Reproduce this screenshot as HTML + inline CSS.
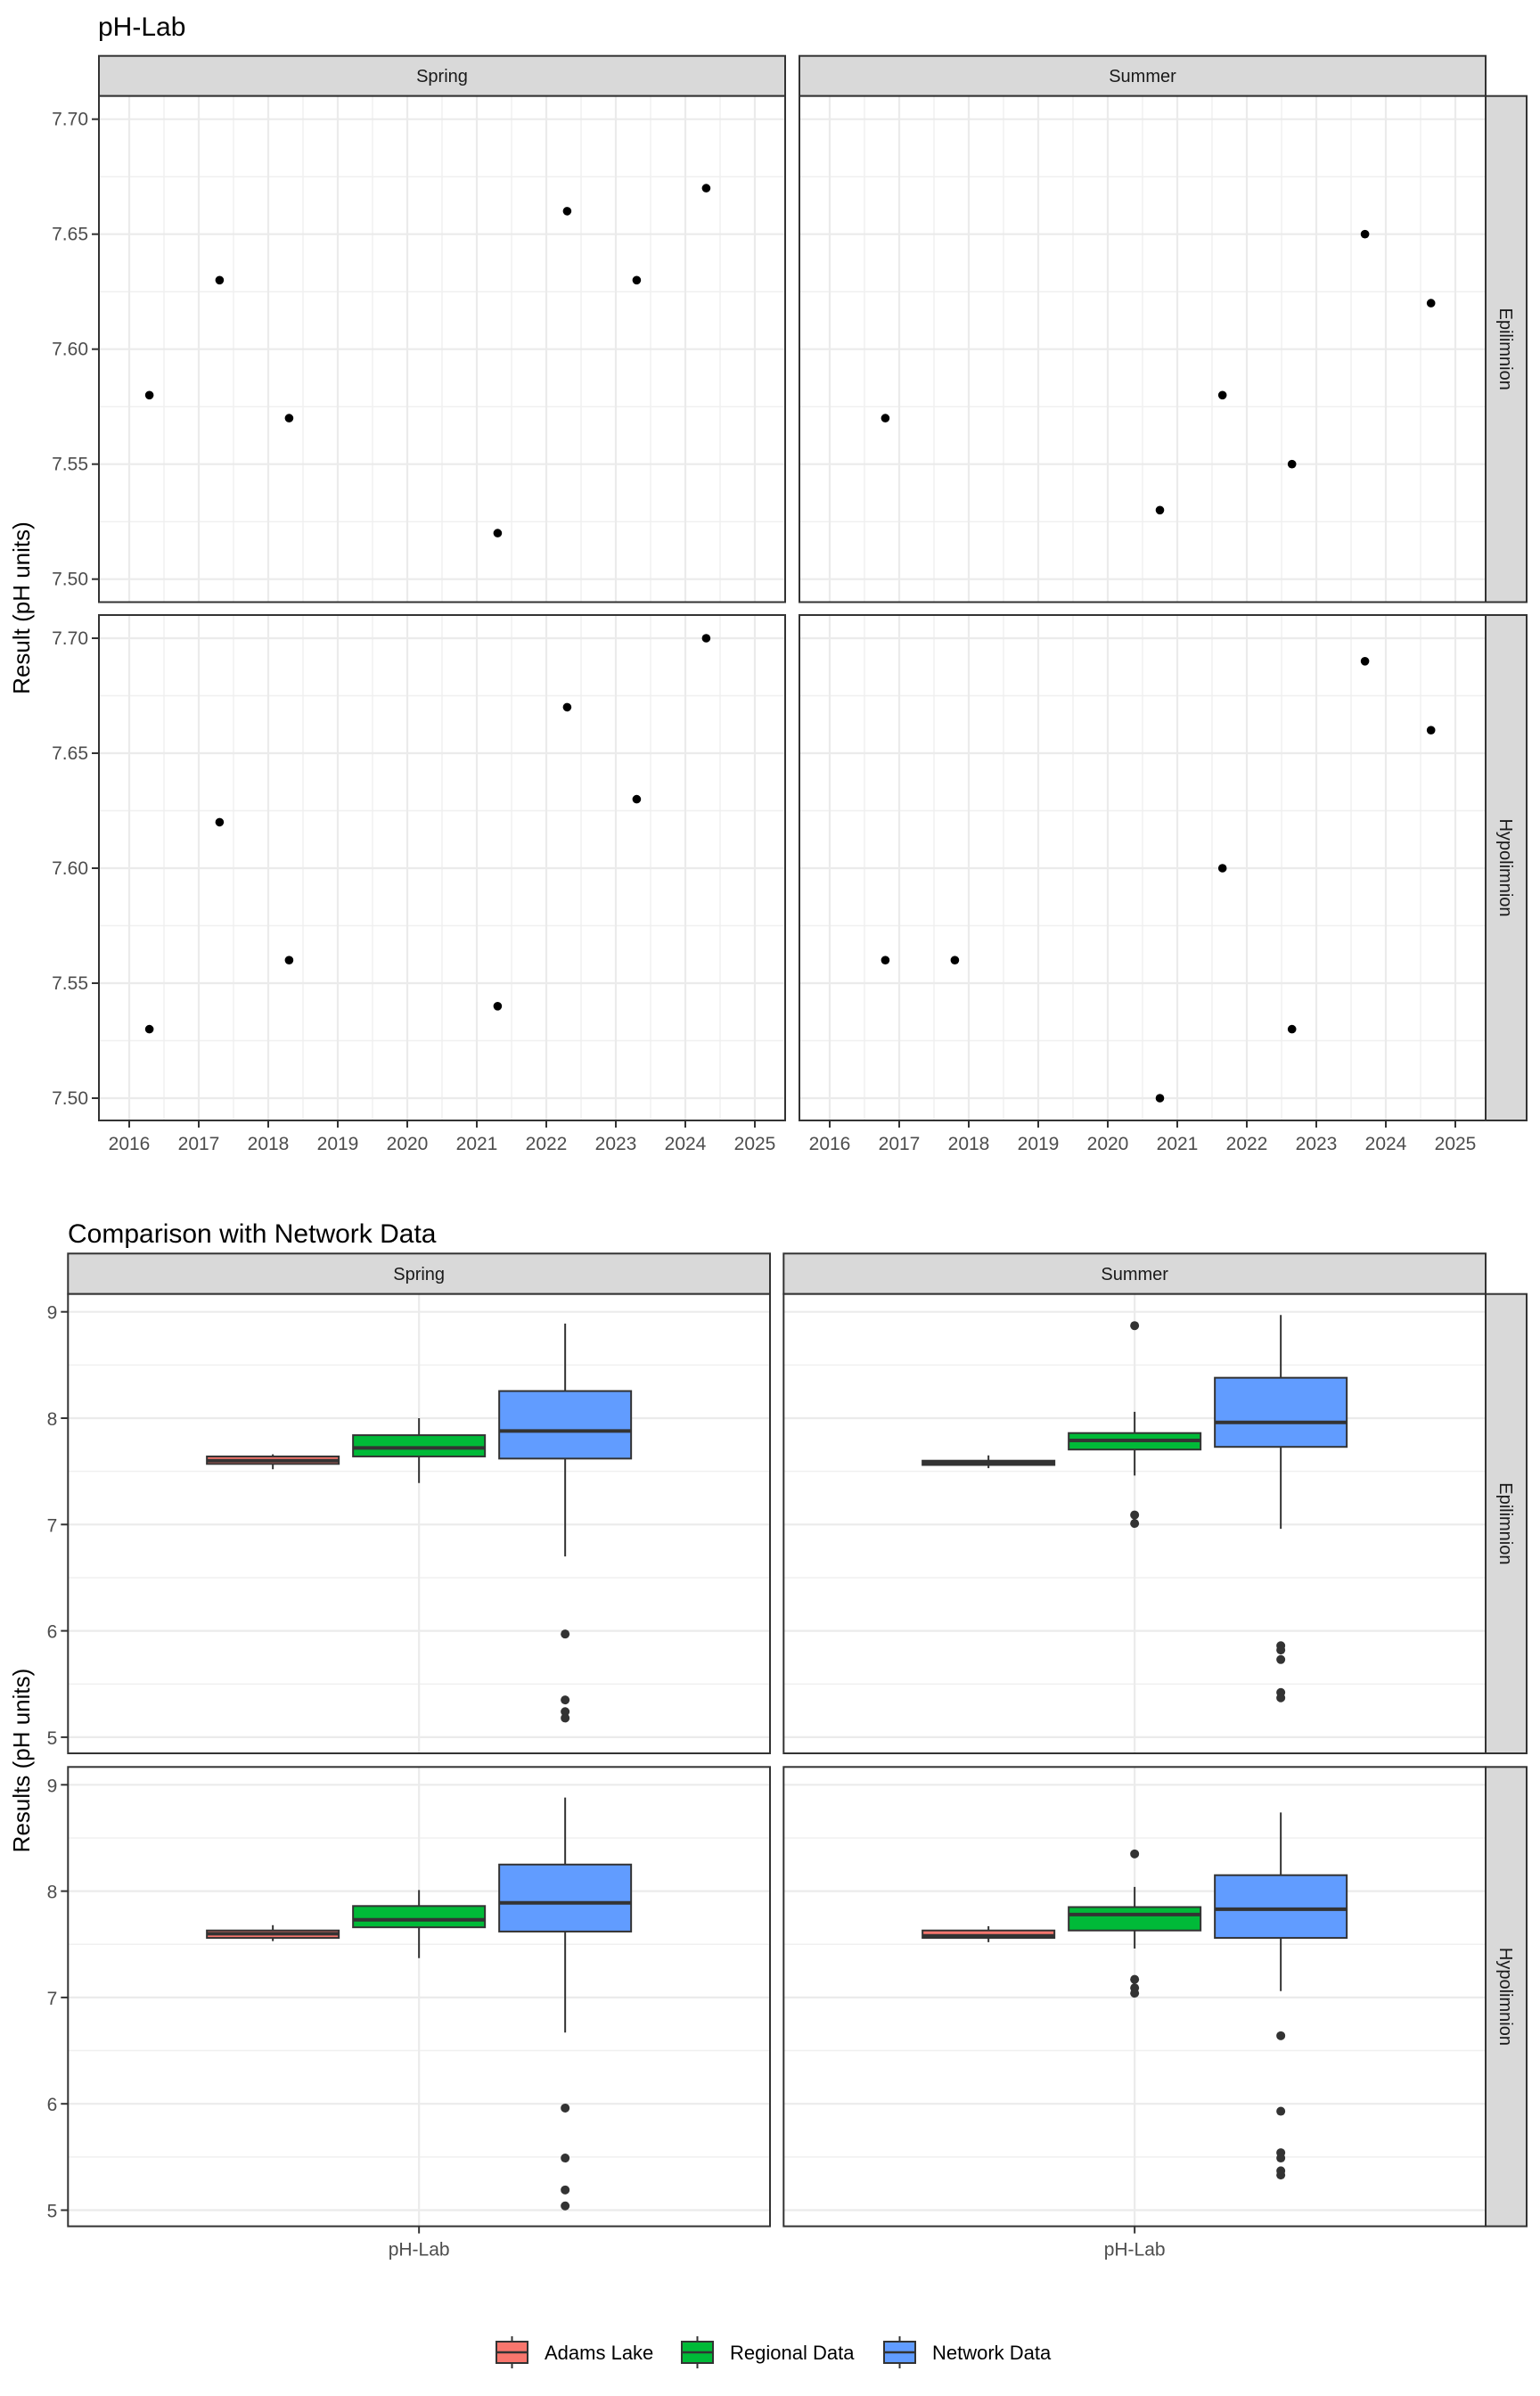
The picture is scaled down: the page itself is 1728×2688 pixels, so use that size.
<!DOCTYPE html>
<html><head><meta charset="utf-8">
<style>
html,body{margin:0;padding:0;background:#fff;}
svg{display:block;font-family:"Liberation Sans",sans-serif;}
</style></head>
<body>
<svg id="chart" width="1728" height="2688" viewBox="0 0 1728 2688" xmlns="http://www.w3.org/2000/svg"></svg>
<script>
// ---------- Top chart data (scatter) ----------
const seasons = ["Spring", "Summer"];
const layers = ["Epilimnion", "Hypolimnion"];
const yearTicks = [2016, 2017, 2018, 2019, 2020, 2021, 2022, 2023, 2024, 2025];
const phTicks = [7.50, 7.55, 7.60, 7.65, 7.70];
const springEpiYears = [2016.29, 2017.3, 2018.3, 2021.3, 2022.3, 2023.3, 2024.3];
const springEpiValues = [7.58, 7.63, 7.57, 7.52, 7.66, 7.63, 7.67];
const springHypoYears = [2016.29, 2017.3, 2018.3, 2021.3, 2022.3, 2023.3, 2024.3];
const springHypoValues = [7.53, 7.62, 7.56, 7.54, 7.67, 7.63, 7.70];
const summerEpiYears = [2016.8, 2020.75, 2021.65, 2022.65, 2023.7, 2024.65];
const summerEpiValues = [7.57, 7.53, 7.58, 7.55, 7.65, 7.62];
const summerHypoYears = [2016.8, 2017.8, 2020.75, 2021.65, 2022.65, 2023.7, 2024.65];
const summerHypoValues = [7.56, 7.56, 7.50, 7.60, 7.53, 7.69, 7.66];

// ---------- Bottom chart data (boxplots) ----------
const groups = ["Adams Lake", "Regional Data", "Network Data"];
const boxTicks = [5, 6, 7, 8, 9];
// [whiskerLow, q1, median, q3, whiskerHigh]
const springEpiBoxes = [[7.52, 7.57, 7.60, 7.64, 7.66], [7.39, 7.64, 7.72, 7.84, 8.00], [6.70, 7.62, 7.88, 8.255, 8.89]];
const springEpiOutliers = [[], [], [5.97, 5.35, 5.24, 5.18]];
const summerEpiBoxes = [[7.53, 7.56, 7.58, 7.60, 7.65], [7.46, 7.705, 7.79, 7.86, 8.06], [6.96, 7.73, 7.96, 8.38, 8.97]];
const summerEpiOutliers = [[], [8.87, 7.09, 7.01], [5.86, 5.82, 5.73, 5.42, 5.37]];
const springHypoBoxes = [[7.53, 7.56, 7.60, 7.63, 7.68], [7.37, 7.66, 7.73, 7.86, 8.01], [6.67, 7.62, 7.89, 8.25, 8.88]];
const springHypoOutliers = [[], [], [5.96, 5.49, 5.19, 5.04]];
const summerHypoBoxes = [[7.52, 7.56, 7.58, 7.63, 7.67], [7.46, 7.63, 7.78, 7.85, 8.04], [7.06, 7.56, 7.83, 8.15, 8.74]];
const summerHypoOutliers = [[], [8.35, 7.17, 7.09, 7.04], [6.64, 5.93, 5.54, 5.49, 5.37, 5.33]];
const groupColors = ["#F8766D", "#00BA38", "#619CFF"];

const NS = "http://www.w3.org/2000/svg";
const svg = document.getElementById("chart");
function mk(tag, attrs, parent, text) {
  const e = document.createElementNS(NS, tag);
  for (const k in attrs) e.setAttribute(k, attrs[k]);
  if (text !== undefined) e.textContent = text;
  (parent || svg).appendChild(e);
  return e;
}

// ----- TOP CHART -----
const topPanelsX = [[111, 881], [897, 1667]];
const topPanelsY = [[107.7, 675.5], [690, 1257]];
let t = mk("text", {x: 110, y: 40, "font-size": 30, fill: "#000"}, svg, "pH-Lab");


t = mk("text", {x: 0, y: 0, "font-size": 26, fill: "#000", "text-anchor": "middle", transform: "translate(33,682) rotate(-90)"}, svg, "Result (pH units)");



const topSeries = [[[springEpiYears, springEpiValues], [springHypoYears, springHypoValues]],
                   [[summerEpiYears, summerEpiValues], [summerHypoYears, summerHypoValues]]];

function yrX(si, yr) { return topPanelsX[si][0] + 34 + (yr - 2016) * 78; }
function phY(li, v) { return topPanelsY[li][0] + 26 + (7.70 - v) * 2580; }

for (let si = 0; si < 2; si++) {
  const [x0, x1] = topPanelsX[si];
  // strip
  let g = mk("g", {});
  
  
  mk("rect", {x: x0, y: 62.7, width: x1 - x0, height: 45, fill: "#D9D9D9", stroke: "#333", "stroke-width": 2}, g);
  mk("text", {x: (x0 + x1) / 2, y: 92, "font-size": 20, "text-anchor": "middle", fill: "#1a1a1a"}, g, seasons[si]);
  for (let li = 0; li < 2; li++) {
    const [y0, y1] = topPanelsY[li];
    const pg = mk("g", {});
    
    
    mk("rect", {x: x0, y: y0, width: x1 - x0, height: y1 - y0, fill: "#fff"}, pg);
    // minor grid
    for (let i = 0; i < yearTicks.length - 1; i++) {
      const xm = yrX(si, yearTicks[i] + 0.5);
      mk("line", {x1: xm, x2: xm, y1: y0, y2: y1, stroke: "#F0F0F0", "stroke-width": 1.5}, pg);
    }
    for (let i = 0; i < phTicks.length - 1; i++) {
      const ym = phY(li, phTicks[i] + 0.025);
      mk("line", {x1: x0, x2: x1, y1: ym, y2: ym, stroke: "#F0F0F0", "stroke-width": 1.5}, pg);
    }
    for (const yr of yearTicks) {
      const xv = yrX(si, yr);
      mk("line", {x1: xv, x2: xv, y1: y0, y2: y1, stroke: "#EBEBEB", "stroke-width": 2.2}, pg);
    }
    for (const v of phTicks) {
      const yv = phY(li, v);
      mk("line", {x1: x0, x2: x1, y1: yv, y2: yv, stroke: "#EBEBEB", "stroke-width": 2.2}, pg);
    }
    const [xs, vs] = topSeries[si][li];
    for (let i = 0; i < xs.length; i++) {
      const c = mk("circle", {cx: yrX(si, xs[i]), cy: phY(li, vs[i]), r: 4.8, fill: "#000"}, pg);
      
      
    }
    mk("rect", {x: x0, y: y0, width: x1 - x0, height: y1 - y0, fill: "none", stroke: "#333", "stroke-width": 2}, pg);
    if (si === 0) {
      for (const v of phTicks) {
        const yv = phY(li, v);
        mk("line", {x1: x0 - 8, x2: x0, y1: yv, y2: yv, stroke: "#333", "stroke-width": 2}, pg);
        mk("text", {x: x0 - 12, y: yv + 7, "font-size": 21, "text-anchor": "end", fill: "#4D4D4D"}, pg, v.toFixed(2));
      }
    }
    if (li === 1) {
      for (const yr of yearTicks) {
        const xv = yrX(si, yr);
        mk("line", {x1: xv, x2: xv, y1: y1, y2: y1 + 8, stroke: "#333", "stroke-width": 2}, pg);
        mk("text", {x: xv, y: y1 + 33, "font-size": 21, "text-anchor": "middle", fill: "#4D4D4D"}, pg, String(yr));
      }
    }
  }
}
for (let li = 0; li < 2; li++) {
  const [y0, y1] = topPanelsY[li];
  const g = mk("g", {});
  
  
  mk("rect", {x: 1667, y: y0, width: 46, height: y1 - y0, fill: "#D9D9D9", stroke: "#333", "stroke-width": 2}, g);
  mk("text", {x: 0, y: 0, "font-size": 20, "text-anchor": "middle", fill: "#1a1a1a", transform: "translate(1683," + ((y0 + y1) / 2) + ") rotate(90)"}, g, layers[li]);
}

// ----- BOTTOM CHART -----
const botPanelsX = [[76.3, 864], [879.3, 1667]];
const botPanelsY = [[1451.7, 1967], [1982.3, 2497.6]];
t = mk("text", {x: 76, y: 1394, "font-size": 30, fill: "#000"}, svg, "Comparison with Network Data");


t = mk("text", {x: 0, y: 0, "font-size": 26, fill: "#000", "text-anchor": "middle", transform: "translate(33,1975) rotate(-90)"}, svg, "Results (pH units)");



const botBoxes = [[springEpiBoxes, springHypoBoxes], [summerEpiBoxes, summerHypoBoxes]];
const botOut = [[springEpiOutliers, springHypoOutliers], [summerEpiOutliers, summerHypoOutliers]];
function bY(li, v) { return botPanelsY[li][0] + 20 + (9 - v) * 119.3; }
function catX(si) { return (botPanelsX[si][0] + botPanelsX[si][1]) / 2; }
const dodge = 164, boxW = 148;

for (let si = 0; si < 2; si++) {
  const [x0, x1] = botPanelsX[si];
  let g = mk("g", {});
  
  
  mk("rect", {x: x0, y: 1406.3, width: x1 - x0, height: 45.4, fill: "#D9D9D9", stroke: "#333", "stroke-width": 2}, g);
  mk("text", {x: (x0 + x1) / 2, y: 1436, "font-size": 20, "text-anchor": "middle", fill: "#1a1a1a"}, g, seasons[si]);
  for (let li = 0; li < 2; li++) {
    const [y0, y1] = botPanelsY[li];
    const pg = mk("g", {});
    
    
    mk("rect", {x: x0, y: y0, width: x1 - x0, height: y1 - y0, fill: "#fff"}, pg);
    for (let i = 0; i < boxTicks.length - 1; i++) {
      const ym = bY(li, boxTicks[i] + 0.5);
      mk("line", {x1: x0, x2: x1, y1: ym, y2: ym, stroke: "#F0F0F0", "stroke-width": 1.5}, pg);
    }
    for (const v of boxTicks) {
      const yv = bY(li, v);
      mk("line", {x1: x0, x2: x1, y1: yv, y2: yv, stroke: "#EBEBEB", "stroke-width": 2.2}, pg);
    }
    const cx = catX(si);
    mk("line", {x1: cx, x2: cx, y1: y0, y2: y1, stroke: "#EBEBEB", "stroke-width": 2.2}, pg);
    const boxes = botBoxes[si][li], outs = botOut[si][li];
    for (let gi = 0; gi < 3; gi++) {
      const [lo, q1, med, q3, hi] = boxes[gi];
      const bx = cx + (gi - 1) * dodge;
      const bg = mk("g", {}, pg);
      
      
      mk("line", {x1: bx, x2: bx, y1: bY(li, hi), y2: bY(li, lo), stroke: "#333", "stroke-width": 2}, bg);
      mk("rect", {x: bx - boxW / 2, y: bY(li, q3), width: boxW, height: bY(li, q1) - bY(li, q3), fill: groupColors[gi], stroke: "#333", "stroke-width": 2}, bg);
      mk("line", {x1: bx - boxW / 2, x2: bx + boxW / 2, y1: bY(li, med), y2: bY(li, med), stroke: "#333", "stroke-width": 4}, bg);
      for (const o of outs[gi]) {
        const c = mk("circle", {cx: bx, cy: bY(li, o), r: 5, fill: "#333"}, bg);
        
        
      }
    }
    mk("rect", {x: x0, y: y0, width: x1 - x0, height: y1 - y0, fill: "none", stroke: "#333", "stroke-width": 2}, pg);
    if (si === 0) {
      for (const v of boxTicks) {
        const yv = bY(li, v);
        mk("line", {x1: x0 - 8, x2: x0, y1: yv, y2: yv, stroke: "#333", "stroke-width": 2}, pg);
        mk("text", {x: x0 - 12, y: yv + 8, "font-size": 21, "text-anchor": "end", fill: "#4D4D4D"}, pg, String(v));
      }
    }
    if (li === 1) {
      mk("line", {x1: cx, x2: cx, y1: y1, y2: y1 + 8, stroke: "#333", "stroke-width": 2}, pg);
      mk("text", {x: cx, y: y1 + 33, "font-size": 21, "text-anchor": "middle", fill: "#4D4D4D"}, pg, "pH-Lab");
    }
  }
}
for (let li = 0; li < 2; li++) {
  const [y0, y1] = botPanelsY[li];
  const g = mk("g", {});
  
  
  mk("rect", {x: 1667, y: y0, width: 46, height: y1 - y0, fill: "#D9D9D9", stroke: "#333", "stroke-width": 2}, g);
  mk("text", {x: 0, y: 0, "font-size": 20, "text-anchor": "middle", fill: "#1a1a1a", transform: "translate(1683," + ((y0 + y1) / 2) + ") rotate(90)"}, g, layers[li]);
}

// ----- LEGEND -----
const legendKeyX = [557, 765, 992];
const lg = mk("g", {});


for (let gi = 0; gi < 3; gi++) {
  const kx = legendKeyX[gi];
  const eg = mk("g", {}, lg);
  
  
  mk("line", {x1: kx + 17.5, x2: kx + 17.5, y1: 2621, y2: 2657, stroke: "#333", "stroke-width": 2}, eg);
  mk("rect", {x: kx, y: 2627, width: 35, height: 24, fill: groupColors[gi], stroke: "#333", "stroke-width": 2}, eg);
  mk("line", {x1: kx, x2: kx + 35, y1: 2639, y2: 2639, stroke: "#333", "stroke-width": 2.5}, eg);
  mk("text", {x: kx + 54, y: 2647, "font-size": 22, fill: "#000"}, eg, groups[gi]);
}
</script>
</body></html>
